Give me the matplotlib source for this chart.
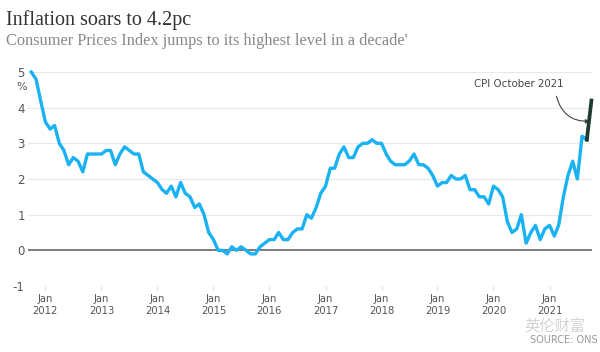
import matplotlib
matplotlib.use("Agg")
import matplotlib.pyplot as plt
import pandas as pd

# Monthly CPI, Oct 2011 .. Oct 2021 (%)
cpi = [5.0, 4.8, 4.2,
       3.6, 3.4, 3.5, 3.0, 2.8, 2.4, 2.6, 2.5, 2.2, 2.7, 2.7, 2.7,
       2.7, 2.8, 2.8, 2.4, 2.7, 2.9, 2.8, 2.7, 2.7, 2.2, 2.1, 2.0,
       1.9, 1.7, 1.6, 1.8, 1.5, 1.9, 1.6, 1.5, 1.2, 1.3, 1.0, 0.5,
       0.3, 0.0, 0.0, -0.1, 0.1, 0.0, 0.1, 0.0, -0.1, -0.1, 0.1, 0.2,
       0.3, 0.3, 0.5, 0.3, 0.3, 0.5, 0.6, 0.6, 1.0, 0.9, 1.2, 1.6,
       1.8, 2.3, 2.3, 2.7, 2.9, 2.6, 2.6, 2.9, 3.0, 3.0, 3.1, 3.0,
       3.0, 2.7, 2.5, 2.4, 2.4, 2.4, 2.5, 2.7, 2.4, 2.4, 2.3, 2.1,
       1.8, 1.9, 1.9, 2.1, 2.0, 2.0, 2.1, 1.7, 1.7, 1.5, 1.5, 1.3,
       1.8, 1.7, 1.5, 0.8, 0.5, 0.6, 1.0, 0.2, 0.5, 0.7, 0.3, 0.6,
       0.7, 0.4, 0.7, 1.5, 2.1, 2.5, 2.0, 3.2, 3.1, 4.2]
meses = pd.date_range("2011-10-01", periods=len(cpi), freq="MS")
anios = list(range(2012, 2022))
yticks = [-1, 0, 1, 2, 3, 4, 5]

fuente = ["DejaVu Sans"]

fig = plt.figure(figsize=(6, 3.52), dpi=100)
ax = fig.add_axes([0.047, 0.1875, 0.94, 0.608])

# linea principal y ultimo tramo (oct 2021) en verde oscuro
ax.plot(meses[:-1], cpi[:-1], color="#1ab2f2", lw=2.4, solid_joinstyle="round",
        clip_on=False, zorder=3)
ax.plot(meses[-2:], cpi[-2:], color="#1f3a30", lw=2.7, clip_on=False, zorder=4)

ax.axhline(0, color="#666666", lw=1.2, zorder=2)
for y in yticks:
    if y != 0:
        ax.axhline(y, color="#e8e8e8", lw=0.8, zorder=1)

ax.set_ylim(-1, 5)
ax.set_xlim(meses[0] - pd.Timedelta(days=20), meses[-1] + pd.Timedelta(days=5))

for s in ax.spines.values():
    s.set_visible(False)

ax.set_yticks(yticks)
ax.set_yticklabels([str(y) for y in yticks])
ax.tick_params(axis="y", length=0, pad=2.5, labelsize=8.5, labelcolor="#555555")

jan = [pd.Timestamp(f"{a}-01-01") for a in anios]
ax.set_xticks(jan)
ax.set_xticklabels([f"Jan\n{a}" for a in anios], family=fuente, stretch="condensed")
ax.tick_params(axis="x", length=3, color="#dddddd", pad=3, labelsize=8,
               labelcolor="#555555")
ax.text(-0.002, 0.93, "%", transform=ax.transAxes, ha="right", va="center",
        fontsize=8, color="#555555")

# anotacion del ultimo dato
ax.text(pd.Timestamp("2020-06-15"), 4.65, "CPI October 2021", ha="center", va="center",
        fontsize=8.2, color="#444444", family=fuente, stretch="condensed")
ax.annotate("", xy=(meses[-1] - pd.Timedelta(days=10), 3.62),
            xytext=(pd.Timestamp("2021-02-15"), 4.32),
            arrowprops=dict(arrowstyle="-|>", color="#444444", lw=0.8,
                            connectionstyle="arc3,rad=0.4", shrinkA=0, shrinkB=0,
                            mutation_scale=6))

fig.text(0.01, 0.943, "Inflation soars to 4.2pc", family="Liberation Serif",
         fontsize=14.5, color="#333333", va="center")
fig.text(0.01, 0.884, "Consumer Prices Index jumps to its highest level in a decade'",
         family="Liberation Serif", fontsize=11.8, color="#888888", va="center")
fig.text(0.996, 0.035, "SOURCE: ONS", ha="right", va="center", fontsize=7,
         color="#999999", family=fuente)
fig.text(0.975, 0.075, "英伦财富", ha="right", va="center", fontsize=11,
         color="#d4d4d4", family=["Noto Sans CJK SC", "DejaVu Sans"])

fig.savefig("out.png", dpi=100)
